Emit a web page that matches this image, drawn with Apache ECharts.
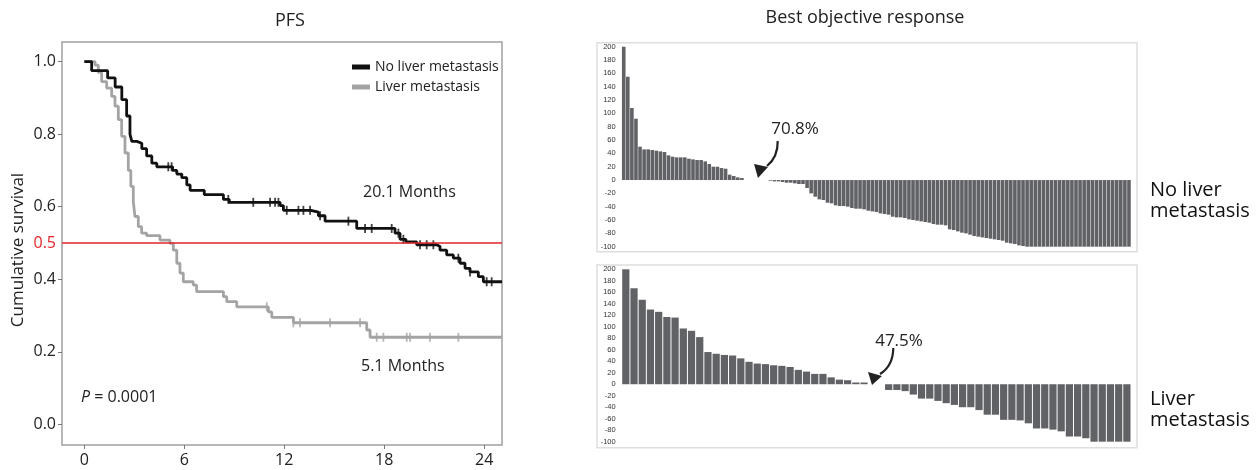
<!DOCTYPE html>
<html>
<head>
<meta charset="utf-8">
<script src="https://cdn.jsdelivr.net/npm/echarts@6/dist/echarts.min.js"></script>
<style>
html,body{margin:0;padding:0;background:#fff;}
#c{width:1257px;height:470px;}
</style>
</head>
<body>
<div id="c"></div>
<script>
// ---------- PFS (Kaplan-Meier) data: [month, cumulative survival] ----------
const noLiverCurve = [
  [0,1.0],[0.44,0.975],[1.4,0.955],[1.85,0.93],[2.25,0.895],[2.54,0.85],[2.74,0.80],[2.85,0.78],
  [3.15,0.775],[3.45,0.76],[3.74,0.74],[4.05,0.72],[4.35,0.71],[5.3,0.70],[5.55,0.69],[5.85,0.68],
  [6.15,0.66],[6.35,0.645],[7.2,0.633],[8.35,0.62],[8.7,0.612],[11.75,0.603],[11.95,0.59],
  [13.6,0.585],[14.05,0.575],[14.45,0.56],[16.35,0.54],[18.65,0.527],[18.95,0.51],[19.3,0.503],
  [19.95,0.495],[21.15,0.49],[21.35,0.48],[21.75,0.467],[22.15,0.458],[22.55,0.444],[22.85,0.43],
  [23.15,0.42],[23.65,0.407],[23.95,0.393],[25.07,0.393]
];
const liverCurve = [
  [0,1.0],[0.64,0.99],[0.84,0.97],[1.04,0.945],[1.34,0.927],[1.64,0.904],[1.84,0.877],[2.04,0.84],
  [2.24,0.794],[2.44,0.748],[2.64,0.70],[2.79,0.656],[2.94,0.614],[3.04,0.573],[3.24,0.545],
  [3.44,0.527],[3.74,0.52],[4.54,0.508],[5.14,0.499],[5.34,0.48],[5.55,0.444],[5.74,0.417],
  [5.94,0.393],[6.54,0.384],[6.74,0.366],[8.35,0.352],[8.55,0.338],[9.15,0.324],[11.05,0.31],
  [11.25,0.295],[12.55,0.28],[16.95,0.26],[17.15,0.24],[25.07,0.24]
];
const noLiverCensor = [5.04,5.24,8.64,10.14,11.15,11.45,11.65,12.15,12.85,13.15,13.55,14.15,15.85,
  16.85,17.25,18.45,18.85,19.15,20.15,20.55,20.95,22.45,23.15,24.15,24.45];
const liverCensor = [10.95,12.55,12.95,14.75,16.55,17.55,17.95,19.35,19.55,20.75,22.45];
const xTicks = [0,6,12,18,24];
const yLabels = [0,0.2,0.4,0.5,0.6,0.8,1.0];
const yTicks = [0,0.2,0.4,0.6,0.8,1.0];
const medianLine = 0.5;

// ---------- Best objective response (% change) ----------
const noLiverPos = [200,155,108,92,50,46,46,45,44,43,42,37,35,34,34,34,32,31,30,30,28,24,20,20,18,17,8,6,4,3];
const noLiverGap = 6;
const noLiverNeg = [-1,-2,-2,-3,-4,-4,-5,-6,-6,-12,-20,-25,-29,-30,-34,-35,-38,-39,-39,-40,
  -42,-43,-43,-44,-46,-47,-48,-50,-51,-52,-55,-56,-56,-57,-59,-60,-61,-62,-63,-64,
  -66,-67,-67,-68,-74,-75,-77,-79,-80,-82,-84,-85,-86,-87,-88,-89,-90,-91,-94,-95,-96,
  -98,-99,-100,-100,-100,-100,-100,-100,-100,-100,-100,-100,-100,-100,-100,-100,-100,-100,
  -100,-100,-100,-100,-100,-100,-100,-100,-100,-100];
const liverPos = [200,167,147,130,126,117,116,97,93,82,56,53,51,50,45,39,36,35,33,32,30,25,22,18,18,12,8,7,3,3];
const liverGap = 2;
const liverNeg = [-10,-10,-12,-18,-25,-25,-29,-33,-36,-40,-40,-45,-53,-53,-62,-62,-63,-68,-77,-77,
  -79,-82,-91,-91,-94,-100,-100,-100,-100,-100];
const barTicks = {min:-100, max:200, interval:20};

// ---------- build ----------
function stepAt(curve, t){ let y = curve[0][1]; for (const p of curve){ if (p[0] <= t) y = p[1]; } return y; }
const noLiverCensorPts = noLiverCensor.map(t => [t, stepAt(noLiverCurve, t)]);
const liverCensorPts = liverCensor.map(t => [t, stepAt(liverCurve, t)]);
const gapArr = n => Array.from({length:n}, () => '-');
const topVals = noLiverPos.concat(gapArr(noLiverGap), noLiverNeg);
const botVals = liverPos.concat(gapArr(liverGap), liverNeg);
const topCats = topVals.map((v,i) => i);
const botCats = botVals.map((v,i) => i);

const FONT = 'Open Sans';
const BAR = '#616266';
const chart = echarts.init(document.getElementById('c'), null, {renderer:'canvas'});

const barYAxis = (gi) => ({
  type:'value', gridIndex:gi, min:barTicks.min, max:barTicks.max, interval:barTicks.interval,
  axisLine:{show:false}, axisTick:{show:false}, splitLine:{show:false},
  axisLabel:{fontSize:7.5, color:'#333', margin:6, fontFamily:'Liberation Sans'}
});
const barXAxis = (gi, cats) => ({
  type:'category', gridIndex:gi, data:cats, show:false
});

chart.setOption({
  animation:false,
  textStyle:{fontFamily:FONT},
  grid:[
    {left:62, top:42, width:440, height:403, show:true, borderColor:'#a0a0a0', borderWidth:1.5, backgroundColor:'transparent'},
    {left:621.7, top:46.7, width:509.3, height:200},
    {left:621.7, top:269.3, width:509.3, height:172.4}
  ],
  legend:{
    left:347, top:55, orient:'vertical', itemWidth:18, itemHeight:5, itemGap:6, icon:'rect',
    data:['No liver metastasis','Liver metastasis'],
    textStyle:{fontSize:14, color:'#222', fontFamily:FONT}
  },
  xAxis:[
    {type:'value', gridIndex:0, min:-1.34, max:25.07, position:'bottom',
     axisLine:{show:false, onZero:false}, splitLine:{show:false},
     axisTick:{show:true, length:4, lineStyle:{color:'#777'}, customValues:xTicks},
     axisLabel:{fontSize:16, color:'#222', margin:7, customValues:xTicks, fontFamily:FONT}},
    barXAxis(1, topCats),
    barXAxis(2, botCats)
  ],
  yAxis:[
    {type:'value', gridIndex:0, min:-0.057, max:1.054, position:'left',
     axisLine:{show:false, onZero:false}, splitLine:{show:false},
     axisTick:{show:true, length:4, lineStyle:{color:'#777'}, customValues:yTicks},
     axisLabel:{fontSize:16, color:'#222', margin:6, customValues:yLabels, fontFamily:FONT,
       formatter: v => (Math.abs(v-0.5) < 1e-9 ? '{r|0.5}' : v.toFixed(1)),
       rich:{r:{color:'#e3252b', fontSize:16, fontFamily:FONT}}}},
    barYAxis(1),
    barYAxis(2)
  ],
  series:[
    {name:'Liver metastasis', type:'line', xAxisIndex:0, yAxisIndex:0, step:'end', showSymbol:false,
     data:liverCurve, color:'#a4a4a4', lineStyle:{width:2.8, color:'#a4a4a4'}, z:3,
     markLine:{silent:true, symbol:'none', label:{show:false},
       lineStyle:{color:'#e3252b', width:1.6, type:'solid'}, data:[{yAxis:medianLine}]}},
    {name:'No liver metastasis', type:'line', xAxisIndex:0, yAxisIndex:0, step:'end', showSymbol:false,
     data:noLiverCurve, color:'#111', lineStyle:{width:2.8, color:'#111'}, z:4},
    {name:'lc', type:'scatter', xAxisIndex:0, yAxisIndex:0, symbol:'rect', symbolSize:[1.8,9],
     data:liverCensorPts, itemStyle:{color:'#a4a4a4'}, z:3},
    {name:'nc', type:'scatter', xAxisIndex:0, yAxisIndex:0, symbol:'rect', symbolSize:[1.8,9],
     data:noLiverCensorPts, itemStyle:{color:'#111'}, z:4},
    {name:'top', type:'bar', xAxisIndex:1, yAxisIndex:1, data:topVals, barCategoryGap:'12%',
     itemStyle:{color:BAR}},
    {name:'bot', type:'bar', xAxisIndex:2, yAxisIndex:2, data:botVals, barCategoryGap:'12%',
     itemStyle:{color:BAR}}
  ],
  graphic:[
    {type:'text', style:{text:'PFS', x:290, y:21, align:'center', verticalAlign:'middle', font:'18px "Open Sans"', fill:'#222'}},
    {type:'text', style:{text:'Best objective response', x:865, y:18, align:'center', verticalAlign:'middle', font:'18px "Open Sans"', fill:'#222'}},
    {type:'text', x:18, y:250, rotation:Math.PI/2, style:{text:'Cumulative survival', x:0, y:0, align:'center', verticalAlign:'middle', font:'17px "Open Sans"', fill:'#222'}},
    {type:'text', style:{text:'20.1 Months', x:363, y:192, verticalAlign:'middle', font:'16px "Open Sans"', fill:'#222'}},
    {type:'text', style:{text:'5.1 Months', x:361, y:366, verticalAlign:'middle', font:'16px "Open Sans"', fill:'#222'}},
    {type:'text', style:{text:'{i|P} = 0.0001', x:81, y:397, verticalAlign:'middle', font:'16px "Open Sans"', fill:'#222',
      rich:{i:{fontStyle:'italic', fontSize:16, fontFamily:FONT, fill:'#222'}}}},
    {type:'rect', shape:{x:597, y:42.7, width:540, height:209}, style:{fill:'none', stroke:'#dedede', lineWidth:1.5}, silent:true},
    {type:'rect', shape:{x:597, y:265, width:540, height:182.7}, style:{fill:'none', stroke:'#dedede', lineWidth:1.5}, silent:true},
    {type:'text', style:{text:'70.8%', x:795, y:129, align:'center', verticalAlign:'middle', font:'17px "Open Sans"', fill:'#222'}},
    {type:'bezierCurve', shape:{x1:777.7, y1:141, x2:767, y2:166, cpx1:778, cpy1:157}, style:{stroke:'#222', lineWidth:2.2, fill:'none'}},
    {type:'polygon', shape:{points:[[754,164],[768,167],[758,178]]}, style:{fill:'#222'}},
    {type:'text', style:{text:'47.5%', x:899, y:341, align:'center', verticalAlign:'middle', font:'17px "Open Sans"', fill:'#222'}},
    {type:'bezierCurve', shape:{x1:893.3, y1:348, x2:880, y2:374, cpx1:893, cpy1:366}, style:{stroke:'#222', lineWidth:2.2, fill:'none'}},
    {type:'polygon', shape:{points:[[868,372],[882,376],[872,385]]}, style:{fill:'#222'}},
    {type:'text', style:{text:'No liver\nmetastasis', x:1150, y:201, verticalAlign:'middle', font:'20px "Open Sans"', lineHeight:21, fill:'#111'}},
    {type:'text', style:{text:'Liver\nmetastasis', x:1150, y:410, verticalAlign:'middle', font:'20px "Open Sans"', lineHeight:21, fill:'#111'}}
  ]
});
</script>
</body>
</html>
